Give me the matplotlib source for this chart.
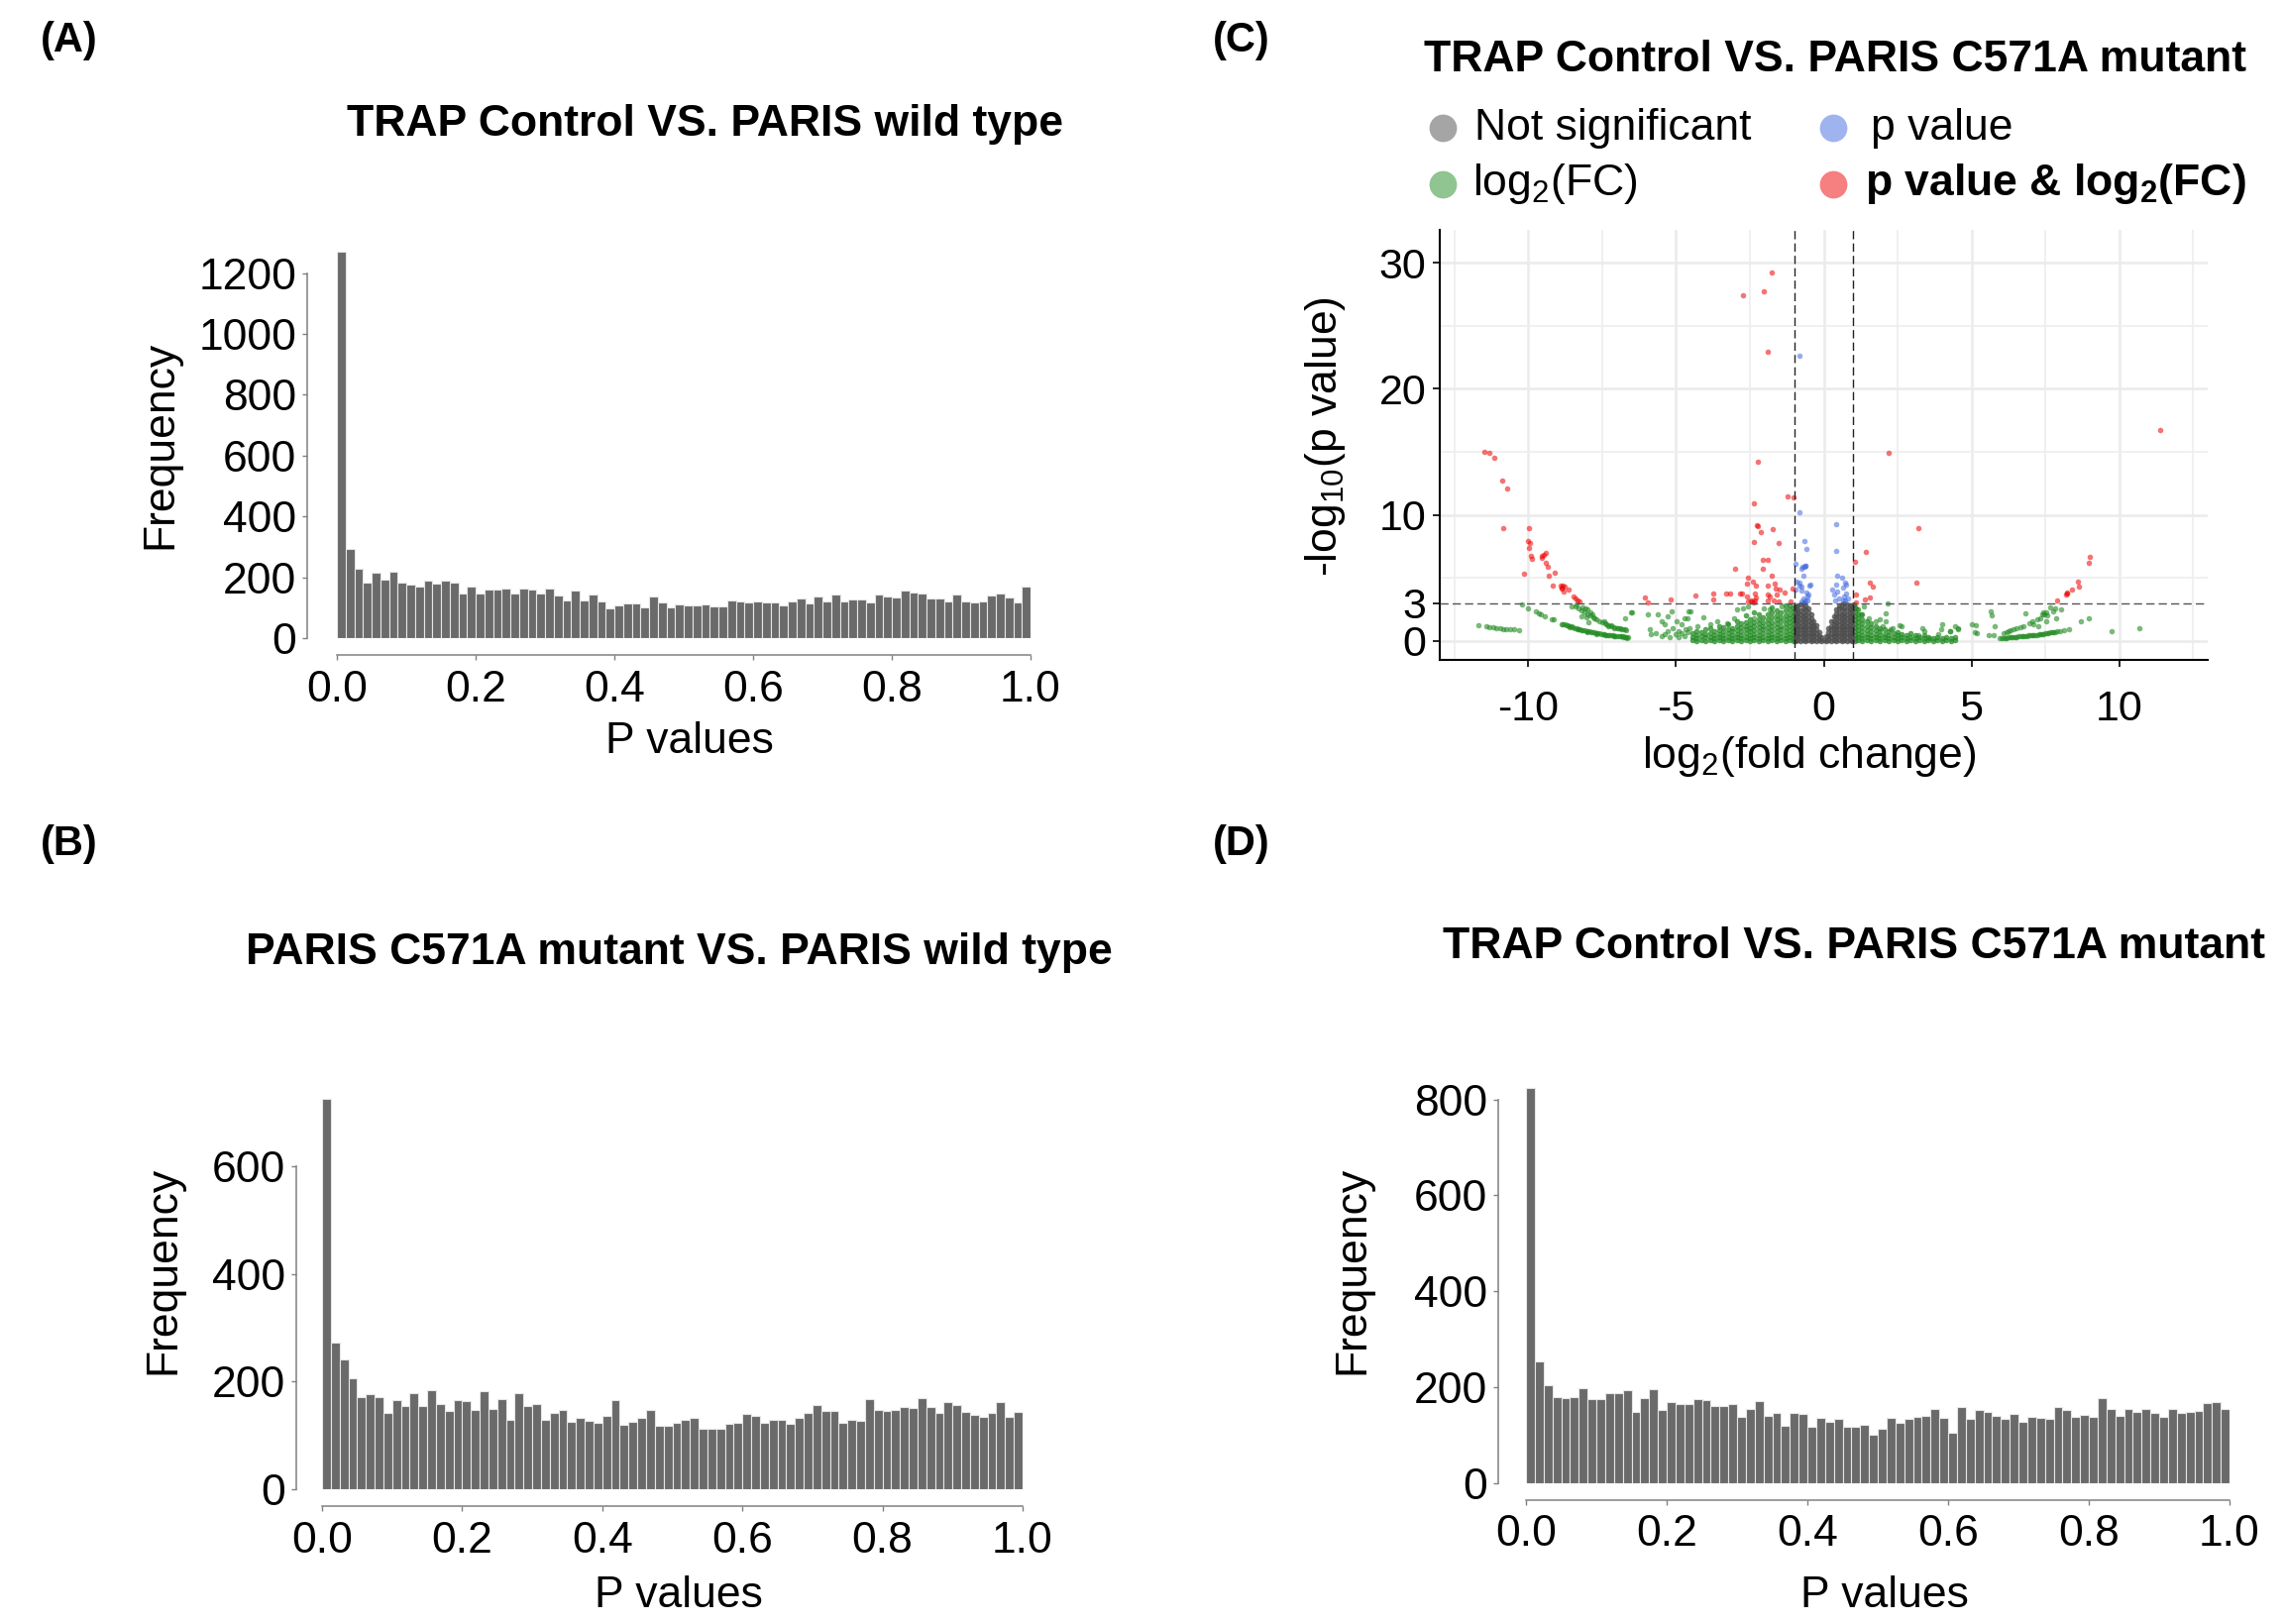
import numpy as np
import matplotlib
matplotlib.use("Agg")
import matplotlib.pyplot as plt
from matplotlib.lines import Line2D

# ========================================================= données

W, H = 2306, 1639

# histogrammes : 80 classes entre 0 et 1
countsA = [1269, 293, 229, 183, 216, 191, 219, 182, 176, 168,
           188, 180, 188, 183, 147, 170, 148, 160, 161, 162,
           147, 164, 158, 146, 162, 141, 124, 157, 124, 144,
           119, 98, 106, 114, 114, 100, 138, 116, 102, 110,
           106, 108, 110, 105, 105, 125, 122, 116, 120, 116,
           118, 107, 120, 130, 114, 137, 122, 142, 121, 126,
           128, 118, 144, 137, 135, 157, 149, 146, 129, 130,
           122, 142, 120, 118, 120, 141, 146, 135, 116, 171]

countsB = [725, 272, 242, 206, 171, 176, 171, 142, 165, 154,
           178, 155, 184, 159, 145, 166, 164, 148, 183, 150,
           167, 128, 179, 155, 159, 128, 142, 148, 125, 133,
           127, 124, 137, 166, 120, 125, 133, 148, 117, 117,
           124, 128, 133, 113, 113, 113, 121, 123, 140, 136,
           123, 129, 128, 122, 133, 142, 157, 146, 145, 124,
           128, 127, 168, 148, 145, 148, 153, 151, 170, 152,
           142, 162, 156, 143, 138, 135, 141, 162, 134, 144]

countsD = [823, 253, 205, 180, 177, 180, 198, 176, 175, 188,
           188, 194, 149, 177, 196, 153, 169, 166, 165, 176,
           173, 161, 161, 165, 138, 154, 171, 140, 146, 120,
           146, 145, 118, 136, 128, 134, 118, 118, 121, 102,
           114, 136, 125, 134, 138, 140, 154, 136, 106, 159,
           135, 153, 148, 140, 134, 145, 129, 138, 137, 135,
           158, 153, 139, 142, 138, 178, 154, 140, 154, 149,
           154, 147, 138, 154, 147, 149, 151, 168, 169, 154]

titleA = "TRAP Control VS. PARIS wild type"
titleB = "PARIS C571A mutant VS. PARIS wild type"
titleC = "TRAP Control VS. PARIS C571A mutant"
titleD = "TRAP Control VS. PARIS C571A mutant"
p_ticks = [0.0, 0.2, 0.4, 0.6, 0.8, 1.0]

# volcano : (log2FC, -log10 p)
both_pts = [(-11.49, 14.97), (-11.33, 14.9), (-11.17, 14.5), (-10.9, 12.75), (-10.72, 12.1),
            (-10.84, 8.95), (-9.99, 8.95), (-10.0, 7.93), (-9.95, 7.75), (-9.99, 7.4),
            (-9.91, 6.73), (-9.88, 6.52), (-9.54, 6.73), (-9.49, 6.8), (-9.42, 6.96),
            (-9.54, 6.6), (-9.4, 6.2), (-9.33, 5.9), (-10.16, 5.3), (-9.32, 5.2),
            (-9.12, 5.4), (-9.17, 4.42), (-8.91, 4.37), (-8.83, 4.37), (-8.78, 4.35),
            (-8.89, 4.14), (-8.81, 3.93), (-8.86, 4.2), (-8.63, 4.08), (-8.46, 3.53),
            (-8.42, 3.4), (-8.33, 3.2), (-8.27, 3.1),
            (-6.04, 3.48), (-5.97, 3.05), (-5.18, 3.32), (-4.34, 3.63), (-3.73, 3.76),
            (-3.73, 3.32), (-3.32, 3.79), (-3.18, 3.73), (-2.85, 3.76), (-2.78, 3.76),
            (-2.6, 3.5), (-2.33, 3.76), (-2.31, 3.47), (-1.91, 3.66), (-1.84, 3.52),
            (-1.58, 3.71), (-1.32, 3.84), (-2.56, 3.1), (-2.47, 3.18), (-2.44, 3.13),
            (-2.38, 3.08), (-2.33, 3.21), (-1.91, 3.21), (-1.71, 3.21), (-1.54, 3.1),
            (-1.11, 3.13), (-1.05, 4.18), (-2.56, 5.04), (-1.75, 5.14), (-2.4, 4.7),
            (-2.61, 4.57), (-2.29, 4.36), (-1.89, 4.36), (-1.66, 4.52), (-1.62, 4.13),
            (-1.49, 4.05), (-3.0, 5.74), (-2.05, 5.69), (-2.08, 6.45), (-1.88, 6.45),
            (-2.35, 7.86), (-1.54, 7.8), (-2.24, 9.08), (-2.27, 9.16), (-2.12, 8.67),
            (-1.72, 8.85), (-2.36, 10.9), (-1.22, 11.49), (-1.03, 11.38), (-2.24, 14.2),
            (-1.88, 22.9), (-2.72, 27.4), (-2.02, 27.73), (-1.75, 29.24),
            (2.2, 14.96), (3.19, 8.93), (1.42, 7.1), (1.07, 6.29), (3.13, 4.6),
            (1.56, 4.62), (1.67, 4.31), (1.09, 3.68), (1.38, 3.29), (1.56, 3.42),
            (1.08, 3.08), (11.4, 16.73), (9.0, 6.65), (8.96, 6.2), (8.59, 4.74),
            (8.64, 4.35), (8.4, 4.11), (8.22, 3.85), (8.21, 3.72), (8.25, 3.77), (7.9, 3.19)]

p_pts = [(-0.83, 22.6), (-0.81, 10.18), (0.41, 9.25), (-0.65, 7.96), (-0.60, 7.28),
         (0.41, 7.18), (-0.63, 5.95), (-0.66, 5.87), (-0.61, 6.0), (-0.72, 5.85),
         (-0.76, 5.69), (-0.97, 6.16), (-0.68, 5.17), (0.46, 5.14), (0.62, 5.04),
         (0.71, 4.65), (0.75, 4.44), (0.65, 4.23), (0.42, 4.44), (0.29, 4.05),
         (0.45, 3.92), (-0.91, 4.7), (-0.82, 4.65), (-0.83, 4.39), (-0.74, 4.31),
         (-0.47, 4.36), (-0.45, 4.44), (-0.95, 4.1), (-0.76, 4.02), (-0.59, 3.84),
         (-0.52, 3.66), (-0.56, 3.5), (-0.7, 3.34), (-0.63, 3.24), (-0.54, 3.18),
         (-0.67, 3.08), (-0.77, 3.16), (0.4, 3.21), (0.52, 3.34), (0.64, 3.21),
         (0.73, 3.18), (0.81, 3.39), (0.76, 3.73), (0.69, 3.52), (0.36, 3.66)]

fc_pts = [(-11.70, 1.23), (-11.43, 1.15), (-11.31, 1.13), (-11.20, 1.10), (-11.09, 1.05),
          (-10.97, 1.0), (-10.86, 0.97), (-10.75, 0.97), (-10.63, 0.94), (-10.50, 0.92),
          (-10.33, 0.89),
          (-10.23, 2.93), (-10.0, 2.57), (-9.75, 2.33), (-9.66, 2.17), (-9.57, 2.09),
          (-9.46, 1.99), (-9.21, 1.75), (-9.15, 1.75),
          (-8.89, 1.36), (-8.83, 1.33), (-8.78, 1.31), (-8.72, 1.27), (-8.67, 1.23),
          (-8.61, 1.19), (-8.55, 1.15), (-8.50, 1.10), (-8.44, 1.05), (-8.38, 1.01),
          (-8.33, 0.97), (-8.27, 0.93), (-8.21, 0.89), (-8.16, 0.87), (-8.10, 0.84),
          (-8.05, 0.81), (-7.99, 0.79), (-7.93, 0.76), (-7.87, 0.73), (-7.82, 0.70),
          (-7.76, 0.68), (-7.70, 0.65), (-7.65, 0.63), (-7.59, 0.60), (-7.53, 0.58),
          (-7.48, 0.55), (-7.42, 0.52), (-7.36, 0.50), (-7.31, 0.47), (-7.25, 0.46),
          (-7.19, 0.45), (-7.13, 0.43), (-7.08, 0.42), (-7.02, 0.40), (-6.97, 0.39),
          (-6.91, 0.38), (-6.86, 0.37), (-6.80, 0.35), (-6.74, 0.34), (-6.68, 0.32),
          (-6.63, 0.31), (-8.6, 1.1), (-8.3, 0.9), (-8.0, 0.72), (-7.7, 0.58),
          (-7.4, 0.45), (-7.1, 0.36), (-6.8, 0.28), (-6.65, 0.25),
          (-8.55, 2.75), (-8.42, 2.75), (-8.36, 2.88), (-8.16, 2.67), (-8.08, 2.62),
          (-7.99, 2.49), (-7.9, 2.3), (-8.21, 1.96), (-8.04, 1.91), (-7.83, 2.09),
          (-7.76, 1.83), (-7.96, 1.52), (-7.42, 1.57), (-7.36, 1.31), (-7.31, 1.18),
          (-7.19, 1.26), (-7.08, 1.05), (-6.97, 0.99), (-6.86, 0.97), (-6.74, 0.92),
          (-6.74, 1.78), (-6.52, 2.28), (-8.3, 2.6), (-8.2, 2.45), (-8.1, 2.3),
          (-8.0, 2.15), (-7.9, 2.0), (-7.8, 1.85), (-7.7, 1.72), (-7.6, 1.6),
          (-7.5, 1.48), (-7.4, 1.38), (-7.3, 1.28), (-7.2, 1.2), (-7.1, 1.12),
          (-7.0, 1.05), (-6.9, 0.99), (-6.8, 0.93), (-6.7, 0.88),
          (-6.5, 2.27), (-5.95, 2.09), (-5.89, 0.92), (-5.84, 0.52), (-5.61, 2.09),
          (-5.5, 1.57), (-5.38, 1.31), (-5.38, 0.52), (-5.27, 1.96), (-5.16, 2.36),
          (-5.1, 1.05), (-4.99, 1.57), (-4.93, 0.79), (-4.82, 1.31), (-4.71, 1.83),
          (-4.59, 2.36), (-4.54, 1.05), (-4.71, 0.39), (-4.93, 0.31), (-5.21, 0.31),
          (-5.5, 0.39), (-5.7, 0.6), (-5.3, 0.8), (-5.0, 0.55), (-4.8, 0.6), (-4.6, 0.7),
          (-4.5, 2.35), (-4.62, 1.83), (-4.06, 1.88), (-3.61, 1.57), (-2.94, 2.48),
          (-2.72, 2.61), (-2.55, 2.74), (-2.04, 2.61), (-1.82, 2.48), (-1.43, 2.74),
          (-3.27, 1.44), (-3.83, 1.31), (-4.28, 1.17), (-4.68, 0.91), (-3.05, 1.83),
          (-2.38, 1.83),
          (5.01, 1.31), (5.1, 0.73), (4.56, 0.91), (4.45, 1.17), (4.28, 0.78),
          (4.0, 1.31), (3.89, 0.52), (3.33, 1.04), (3.56, 0.26), (2.55, 1.23),
          (2.32, 1.04), (2.1, 1.57), (1.88, 1.70), (2.16, 3.0), (2.1, 2.22),
          (2.64, 1.17), (2.26, 0.91), (3.22, 0.47), (3.41, 0.78), (3.98, 0.97),
          (4.27, 0.78), (4.56, 1.04), (1.37, 2.74), (1.09, 2.61), (1.26, 2.09),
          (1.54, 1.83), (1.76, 1.57), (1.99, 1.17), (1.01, 2.87),
          (5.66, 2.36), (5.7, 2.04), (5.14, 1.26), (5.18, 0.63), (5.8, 1.18),
          (5.59, 0.5), (5.77, 0.5), (6.82, 2.23), (7.66, 2.67), (7.83, 2.62),
          (8.05, 2.51), (7.76, 2.38), (7.42, 2.25), (7.48, 2.15), (7.53, 2.3),
          (7.39, 2.09), (7.58, 2.04), (7.87, 1.81), (7.33, 1.83), (7.22, 1.75),
          (7.05, 1.57), (7.1, 1.31), (6.97, 1.44), (7.25, 1.18), (7.52, 1.57),
          (6.76, 1.18), (6.65, 1.13), (6.54, 1.05), (6.43, 0.97), (6.33, 0.84),
          (6.26, 0.79), (6.18, 0.71), (6.09, 0.63),
          (5.95, 0.26), (6.02, 0.25), (6.09, 0.24), (6.15, 0.25), (6.2, 0.26),
          (6.26, 0.27), (6.31, 0.29), (6.37, 0.30), (6.43, 0.31), (6.48, 0.32),
          (6.54, 0.34), (6.6, 0.35), (6.65, 0.37), (6.71, 0.38), (6.76, 0.39),
          (6.82, 0.40), (6.88, 0.42), (6.93, 0.43), (6.99, 0.45), (7.05, 0.46),
          (7.1, 0.47), (7.16, 0.48), (7.22, 0.5), (7.28, 0.52), (7.33, 0.55),
          (7.39, 0.56), (7.44, 0.58), (7.5, 0.6), (7.56, 0.63), (7.61, 0.65),
          (7.67, 0.68), (7.73, 0.69), (7.78, 0.71), (7.84, 0.73), (7.9, 0.76),
          (8.01, 0.81), (8.12, 0.86), (8.29, 0.97), (8.69, 1.57), (8.97, 1.78),
          (9.76, 0.79), (10.67, 0.99)]

fc_cols = [(-4.45, [0.05, 0.3, 0.6]),
           (-4.3, [0.0, 0.25, 0.5, 0.8]),
           (-4.15, [0.1, 0.35, 0.7]),
           (-4.0, [0.0, 0.3, 0.55, 0.9]),
           (-3.85, [0.05, 0.3, 0.6, 1.0]),
           (-3.7, [0.0, 0.25, 0.5, 0.8]),
           (-3.55, [0.05, 0.3, 0.55, 0.85, 1.2]),
           (-3.4, [0.0, 0.25, 0.5, 0.8, 1.1]),
           (-3.25, [0.05, 0.3, 0.6, 0.9, 1.3]),
           (-3.1, [0.0, 0.25, 0.5, 0.8, 1.05]),
           (-2.95, [0.05, 0.3, 0.55, 0.85, 1.2, 1.6]),
           (-2.8, [0.0, 0.25, 0.5, 0.8, 1.1, 1.4]),
           (-2.65, [0.05, 0.3, 0.6, 0.9, 1.2, 1.5, 2.0]),
           (-2.5, [0.0, 0.25, 0.5, 0.8, 1.05, 1.35, 1.7]),
           (-2.35, [0.05, 0.3, 0.55, 0.85, 1.15, 1.45, 2.3]),
           (-2.2, [0.0, 0.25, 0.5, 0.8, 1.1, 1.4, 1.7, 2.1]),
           (-2.05, [0.05, 0.3, 0.6, 0.9, 1.2, 1.5, 1.85]),
           (-1.9, [0.0, 0.25, 0.5, 0.8, 1.1, 1.4, 1.75, 2.1]),
           (-1.75, [0.05, 0.3, 0.55, 0.85, 1.15, 1.5, 1.9, 2.3, 2.7]),
           (-1.6, [0.0, 0.25, 0.5, 0.8, 1.1, 1.4, 1.7, 2.0, 2.4]),
           (-1.45, [0.05, 0.3, 0.6, 0.9, 1.2, 1.55, 1.9, 2.25]),
           (-1.3, [0.0, 0.25, 0.5, 0.8, 1.1, 1.4, 1.7, 2.05, 2.4, 2.8]),
           (-1.15, [0.05, 0.3, 0.55, 0.85, 1.15, 1.45, 1.8, 2.1, 2.5, 2.85]),
           (-1.04, [0.0, 0.25, 0.5, 0.8, 1.1, 1.4, 1.7, 2.0, 2.35, 2.7]),
           (1.04, [0.0, 0.25, 0.5, 0.8, 1.1, 1.4, 1.7, 2.0, 2.35, 2.7]),
           (1.15, [0.05, 0.3, 0.55, 0.85, 1.15, 1.45, 1.8, 2.15, 2.5]),
           (1.3, [0.0, 0.25, 0.5, 0.8, 1.1, 1.4, 1.75, 2.1]),
           (1.45, [0.05, 0.3, 0.55, 0.85, 1.2, 1.55]),
           (1.6, [0.0, 0.25, 0.5, 0.8, 1.1, 1.4]),
           (1.75, [0.05, 0.3, 0.55, 0.85, 1.2]),
           (1.9, [0.0, 0.25, 0.5, 0.8, 1.05]),
           (2.05, [0.05, 0.3, 0.55, 0.9]),
           (2.2, [0.0, 0.25, 0.5, 0.75]),
           (2.35, [0.05, 0.3, 0.6]),
           (2.5, [0.0, 0.25, 0.5, 0.7]),
           (2.65, [0.05, 0.3, 0.55]),
           (2.8, [0.0, 0.25, 0.5]),
           (2.95, [0.05, 0.3, 0.6]),
           (3.1, [0.0, 0.25, 0.45]),
           (3.25, [0.05, 0.3]),
           (3.4, [0.0, 0.25, 0.5]),
           (3.55, [0.05, 0.3]),
           (3.7, [0.0, 0.25]),
           (3.85, [0.05, 0.3]),
           (4.0, [0.0, 0.2]),
           (4.15, [0.05, 0.3]),
           (4.3, [0.0, 0.2]),
           (4.45, [0.05, 0.3])]

ns_cols = [(-0.97, [0.0, 0.3, 0.6, 0.9, 1.2, 1.5, 1.8, 2.1, 2.4, 2.75]),
           (-0.88, [0.05, 0.35, 0.65, 0.95, 1.25, 1.55, 1.85, 2.2, 2.5, 2.85]),
           (-0.79, [0.0, 0.3, 0.6, 0.9, 1.2, 1.5, 1.8, 2.1, 2.45, 2.9]),
           (-0.70, [0.05, 0.35, 0.65, 0.95, 1.25, 1.55, 1.9, 2.2, 2.55, 2.95]),
           (-0.61, [0.0, 0.3, 0.6, 0.9, 1.2, 1.5, 1.8, 2.15, 2.5, 2.85]),
           (-0.52, [0.05, 0.35, 0.65, 0.95, 1.25, 1.6, 1.9, 2.25, 2.6]),
           (-0.43, [0.0, 0.3, 0.6, 0.9, 1.2, 1.5, 1.8, 2.15]),
           (-0.34, [0.05, 0.35, 0.65, 0.95, 1.25, 1.6]),
           (-0.25, [0.0, 0.3, 0.6, 0.9, 1.25]),
           (-0.16, [0.05, 0.35, 0.7]),
           (-0.08, [0.0, 0.3]),
           (0.0, [0.05]),
           (0.08, [0.0, 0.35]),
           (0.16, [0.05, 0.35, 0.7, 1.0]),
           (0.25, [0.0, 0.3, 0.6, 0.9, 1.2, 1.55]),
           (0.34, [0.05, 0.35, 0.65, 0.95, 1.25, 1.6, 1.95]),
           (0.43, [0.0, 0.3, 0.6, 0.9, 1.2, 1.5, 1.85, 2.2, 2.5]),
           (0.52, [0.05, 0.35, 0.65, 0.95, 1.25, 1.55, 1.9, 2.2, 2.55, 2.85]),
           (0.61, [0.0, 0.3, 0.6, 0.9, 1.2, 1.5, 1.8, 2.15, 2.5, 2.9]),
           (0.70, [0.05, 0.35, 0.65, 0.95, 1.25, 1.55, 1.9, 2.2, 2.55, 2.95]),
           (0.79, [0.0, 0.3, 0.6, 0.9, 1.2, 1.5, 1.8, 2.15, 2.5, 2.9]),
           (0.88, [0.05, 0.35, 0.65, 0.95, 1.25, 1.55, 1.85, 2.2, 2.5, 2.8]),
           (0.97, [0.0, 0.3, 0.6, 0.9, 1.2, 1.5, 1.8, 2.1, 2.45, 2.75])]

legend_labels = ["Not significant", "log$_2$(FC)", "p value", "p value & log$_2$(FC)"]
volc_colors = ["#4D4D4D", "#228B22", "#4169E1", "#EE0000"]   # grey30, forestgreen, royalblue, red2

# ========================================================= mise en page

plt.rcParams['font.family'] = ['Liberation Sans', 'DejaVu Sans']
plt.rcParams['mathtext.default'] = 'regular'

PT = 0.72  # px -> pt a 100 dpi
fig = plt.figure(figsize=(W / 100, H / 100), dpi=100)


def rect(l, t, r, b):
    return [l / W, 1 - b / H, (r - l) / W, (b - t) / H]


def ftext(x, y, s, **kw):
    fig.text(x / W, 1 - y / H, s, **kw)


def hist_panel(box, counts, ymax, yticks, yoff, xoff, xpad):
    ax = fig.add_axes(rect(*box))
    edges = np.linspace(0, 1, len(counts) + 1)
    ax.bar(edges[:-1], counts, width=edges[1] - edges[0], align='edge',
           color='#6a6a6a', edgecolor='#e6e6e6', linewidth=0.8)
    ax.set_xlim(0, 1)
    ax.set_ylim(0, ymax)
    for s in ['top', 'right']:
        ax.spines[s].set_visible(False)
    ax.spines['left'].set_position(('outward', yoff * PT))
    ax.spines['bottom'].set_position(('outward', xoff * PT))
    ax.spines['left'].set_bounds(0, yticks[-1])
    ax.spines['bottom'].set_bounds(0, 1)
    for s in ['left', 'bottom']:
        ax.spines[s].set_color('#808080')
        ax.spines[s].set_linewidth(1.1)
    ax.set_xticks(p_ticks)
    ax.set_xticklabels([f"{v:.1f}" for v in p_ticks])
    ax.set_yticks(yticks)
    ax.tick_params(length=3.4, width=1, color='#808080', labelsize=32)
    ax.tick_params(axis='x', pad=xpad)
    ax.tick_params(axis='y', pad=4.2)
    return ax


hist_panel((340, 248, 1040, 644), countsA, 1290, [0, 200, 400, 600, 800, 1000, 1200], 30, 17, 7.5)
hist_panel((325, 1101, 1032, 1503), countsB, 740, [0, 200, 400, 600], 26, 17, 7.5)
hist_panel((1540, 1095, 2250, 1497), countsD, 830, [0, 200, 400, 600, 800], 28, 17, 6.5)

# textes des histogrammes
for lab, x, y in [("(A)", 41, 41), ("(B)", 41, 852), ("(C)", 1224, 41), ("(D)", 1224, 852)]:
    ftext(x, y, lab, fontsize=30, fontweight='bold', ha='left', va='center')
for t, x, y in [(titleA, 712, 126), (titleB, 685, 961), (titleC, 1852, 60), (titleD, 1871, 956)]:
    ftext(x, y, t, fontsize=32, fontweight='bold', ha='center', va='center')
for x, y in [(162, 449), (165, 1282), (1365, 1282)]:
    ftext(x, y, "Frequency", fontsize=32, rotation=90, ha='center', va='center')
for x, y in [(696, 749), (685, 1610), (1902, 1610)]:
    ftext(x, y, "P values", fontsize=32, ha='center', va='center')

# ========================================================= volcano (C)

ax = fig.add_axes(rect(1453, 232, 2228, 666))
ax.set_xlim(-13, 13)
ax.set_ylim(-1.5, 32.6)
for v in [-10, -5, 0, 5, 10]:
    ax.axvline(v, color='#ebebeb', lw=1.8, zorder=0)
for v in [-12.5, -7.5, -2.5, 2.5, 7.5, 12.5]:
    ax.axvline(v, color='#eeeeee', lw=1.2, zorder=0)
for v in [0, 10, 20, 30]:
    ax.axhline(v, color='#ebebeb', lw=1.8, zorder=0)
for v in [5, 15, 25]:
    ax.axhline(v, color='#eeeeee', lw=1.2, zorder=0)

ns = np.array([(x, y) for x, ys in ns_cols for y in ys])
fc_sparse = np.array(fc_pts)
fc_dense = np.array([(x, y) for x, ys in fc_cols for y in ys])
pv = np.array(p_pts)
both = np.array(both_pts)
ms = 16
ax.scatter(fc_sparse[:, 0], fc_sparse[:, 1], s=ms, color=volc_colors[1], alpha=0.6, lw=0, zorder=2)
ax.scatter(fc_dense[:, 0], fc_dense[:, 1], s=ms, color=volc_colors[1], alpha=0.75, lw=0, zorder=2)
ax.scatter(ns[:, 0], ns[:, 1], s=ms, color=volc_colors[0], alpha=0.8, lw=0, zorder=2)
ax.scatter(pv[:, 0], pv[:, 1], s=ms, color=volc_colors[2], alpha=0.55, lw=0, zorder=3)
ax.scatter(both[:, 0], both[:, 1], s=ms, color=volc_colors[3], alpha=0.55, lw=0, zorder=3)

dash = (0, (6, 3))
ax.axvline(-1, color='#222222', ls=dash, lw=1.0, zorder=4)
ax.axvline(1, color='#222222', ls=dash, lw=1.0, zorder=4)
ax.axhline(3, color='#555555', ls=dash, lw=1.0, zorder=4)

for s in ['top', 'right']:
    ax.spines[s].set_visible(False)
for s in ['left', 'bottom']:
    ax.spines[s].set_linewidth(1.5)
ax.set_xticks([-10, -5, 0, 5, 10])
ax.set_xticklabels(["-10", "-5", "0", "5", "10"])
ax.set_yticks([0, 3, 10, 20, 30])
ax.tick_params(length=4.8, width=1.2, labelsize=31)
ax.tick_params(axis='x', pad=17)
ax.tick_params(axis='y', pad=5)

ftext(1826, 763, "log$_2$(fold change)", fontsize=32, ha='center', va='center')
ftext(1338, 441, "-log$_{10}$(p value)", fontsize=32, rotation=90, ha='center', va='center')

# légende
for (x, y), col in zip([(1456, 129), (1456, 186), (1850, 129), (1850, 186)], volc_colors):
    fig.add_artist(Line2D([x / W], [1 - y / H], marker='o', ms=20, ls='', color=col,
                          alpha=0.5, mec='none', transform=fig.transFigure))
legend_pos = [(1488, 129), (1486, 186), (1888, 129), (1882, 186)]
for (x, y), lab in zip(legend_pos, legend_labels):
    ftext(x, y, lab, fontsize=32, ha='left', va='center',
          fontweight='bold' if '&' in lab else 'normal')

fig.savefig("out.png", dpi=100)
